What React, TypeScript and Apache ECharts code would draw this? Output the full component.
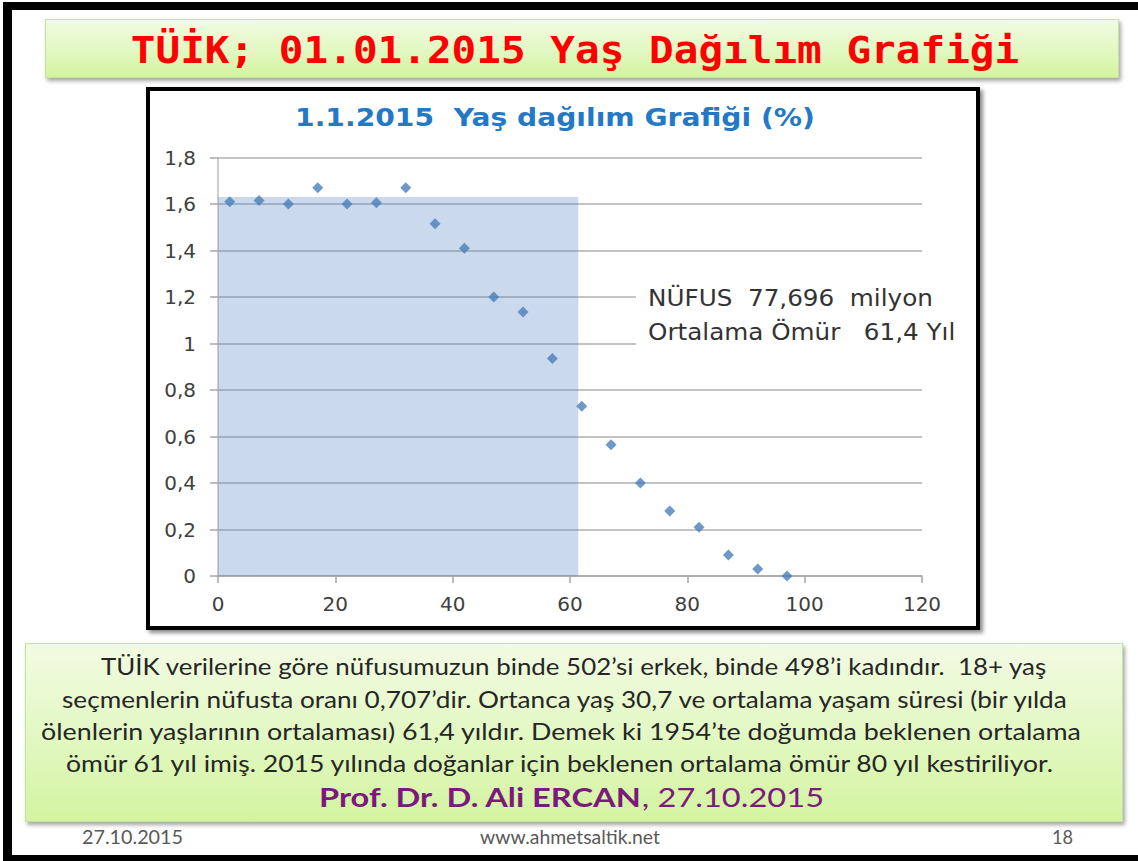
import React, { useEffect, useRef } from "react";
import * as echarts from "echarts";

// ---- data ----
const AGES = [2, 7, 12, 17, 22, 27, 32, 37, 42, 47, 52, 57, 62, 67, 72, 77, 82, 87, 92, 97];
const SHARES = [1.61, 1.615, 1.6, 1.67, 1.6, 1.605, 1.67, 1.515, 1.41, 1.2, 1.135, 0.935, 0.73, 0.565, 0.4, 0.28, 0.21, 0.09, 0.03, 0.0];
const MEAN_AGE_AT_DEATH = 61.4;
const SHADE_TOP = 1.63;
const X_MIN = 0, X_MAX = 120, X_STEP = 20;
const Y_MIN = 0, Y_MAX = 1.8, Y_STEP = 0.2;

const SLIDE_TITLE = "TÜİK; 01.01.2015 Yaş Dağılım Grafiği";
const CHART_TITLE = "1.1.2015  Yaş dağılım Grafiği (%)";
const NOTE_LINES = ["NÜFUS  77,696  milyon", "Ortalama Ömür   61,4 Yıl"];
const BODY_LINES = [
  "TÜİK verilerine göre nüfusumuzun binde 502’si erkek, binde 498’i kadındır.  18+ yaş",
  "seçmenlerin nüfusta oranı 0,707’dir. Ortanca yaş 30,7 ve ortalama yaşam süresi (bir yılda",
  "ölenlerin yaşlarının ortalaması) 61,4 yıldır. Demek ki 1954’te doğumda beklenen ortalama",
  "ömür 61 yıl imiş. 2015 yılında doğanlar için beklenen ortalama ömür 80 yıl kestiriliyor.",
];
const AUTHOR = "Prof. Dr. D. Ali ERCAN";
const AUTHOR_DATE = ", 27.10.2015";
const FOOTER = ["27.10.2015", "www.ahmetsaltik.net", "18"];

// ---- layout helpers ----
let ctx: CanvasRenderingContext2D | null = null;
function measure(text: string, font: string): number {
  if (!ctx) ctx = document.createElement("canvas").getContext("2d");
  ctx!.font = font;
  return ctx!.measureText(text).width;
}
function textEl(
  text: string, x: number, y: number, scaleX: number,
  size: number, family: string, weight: string, fill: string,
  align: "left" | "center" = "left", z = 5
) {
  return {
    type: "text", x, y, scaleX, z, silent: true,
    style: {
      text, x: 0, y: 0, fill, fontSize: size, fontFamily: family, fontWeight: weight,
      align, verticalAlign: "middle", textAlign: align, textVerticalAlign: "middle",
    },
  };
}
function fitText(
  text: string, x: number, y: number, width: number,
  size: number, family: string, weight: string, fill: string,
  align: "left" | "center" = "left", z = 5
) {
  const s = width / measure(text, `${weight} ${size}px ${family}`);
  return textEl(text, x, y, s, size, family, weight, fill, align, z);
}

const LATO = "Lato";
const DV = "DejaVu Sans";

export default function App() {
  const ref = useRef<HTMLDivElement>(null);
  useEffect(() => {
    if (!ref.current) return;
    const chart = echarts.init(ref.current, undefined, { renderer: "svg" });
    const fmt = (v: number) => String(Math.round(v * 10) / 10).replace(".", ",");

    const bodyStarts = [101, 62, 41, 66];
    const bodyEnds = [1048, 1070, 1083, 1057];
    const bodyY = [665, 698, 731, 763];

    const noteScale = 285 / measure(NOTE_LINES[0], `normal 23px ${DV}`);

    const authorSize = 26;
    const wb = measure(AUTHOR, `bold ${authorSize}px ${LATO}`);
    const wd = measure(AUTHOR_DATE, `normal ${authorSize}px ${LATO}`);
    const authorScale = (824 - 319) / (wb + wd);

    const graphic: any[] = [
      fitText(SLIDE_TITLE, 575, 50, 889, 38, "DejaVu Sans Mono", "bold", "#ff0000", "center"),
      fitText(CHART_TITLE, 555, 117, 520, 25, DV, "bold", "#2479c7", "center"),
      {
        type: "rect", z: 1, silent: true,
        shape: { x: 636, y: 281, width: 290, height: 70 },
        style: { fill: "#ffffff" },
      },
      ...NOTE_LINES.map((t, i) =>
        textEl(t, 648, [298, 332][i], noteScale, 23, DV, "normal", "#333333")
      ),
      ...BODY_LINES.map((t, i) =>
        fitText(t, bodyStarts[i], bodyY[i], bodyEnds[i] - bodyStarts[i], 24, LATO, "normal", "#262626")
      ),
      textEl(AUTHOR, 319, 797, authorScale, authorSize, LATO, "bold", "#7a1a7a"),
      textEl(AUTHOR_DATE, 319 + wb * authorScale, 797, authorScale, authorSize, LATO, "normal", "#7a1a7a"),
      fitText(FOOTER[0], 82, 837, 101, 19, LATO, "normal", "#595959"),
      fitText(FOOTER[1], 570, 837, 180, 19, LATO, "normal", "#595959", "center"),
      fitText(FOOTER[2], 1052, 837, 21, 19, LATO, "normal", "#595959"),
    ];

    chart.setOption({
      animation: false,
      backgroundColor: "transparent",
      grid: { left: 218, right: 216, top: 157.5, bottom: 285, containLabel: false },
      xAxis: {
        type: "value", min: X_MIN, max: X_MAX, interval: X_STEP,
        axisLine: { show: true, lineStyle: { color: "#a6a6a6", width: 1.5 } },
        axisTick: { show: true, length: 7, lineStyle: { color: "#a6a6a6", width: 1.5 } },
        splitLine: { show: false },
        axisLabel: { margin: 18, fontFamily: DV, fontSize: 20, color: "#404040" },
      },
      yAxis: {
        type: "value", min: Y_MIN, max: Y_MAX, interval: Y_STEP,
        axisLine: { show: true, lineStyle: { color: "#bfbfbf", width: 1.5 } },
        axisTick: { show: true, length: 8, lineStyle: { color: "#a6a6a6", width: 1.5 } },
        splitLine: { show: true, lineStyle: { color: "#b0b0b0", width: 1.5 } },
        axisLabel: { margin: 22, fontFamily: DV, fontSize: 20, color: "#404040", formatter: fmt },
      },
      series: [
        {
          type: "scatter",
          data: AGES.map((a, i) => [a, SHARES[i]]),
          symbol: "diamond",
          symbolSize: 11,
          itemStyle: { color: "#4a7ebb" },
          silent: true,
          markArea: {
            silent: true,
            itemStyle: { color: "rgba(79,129,189,0.3)" },
            data: [[{ coord: [X_MIN, Y_MIN] }, { coord: [MEAN_AGE_AT_DEATH, SHADE_TOP] }]],
          },
        },
      ],
      graphic,
    });
    return () => chart.dispose();
  }, []);

  const abs = (s: React.CSSProperties): React.CSSProperties => ({ position: "absolute", boxSizing: "border-box", ...s });
  const green = "linear-gradient(to bottom, #f2fbe3 0%, #e3f8c4 50%, #d3f4a0 100%)";

  return (
    <div style={{ position: "fixed", left: 0, top: 0, width: 1138, height: 861, background: "#ffffff", overflow: "hidden" }}>
      <div style={abs({ left: 3, top: 2, width: 1135, height: 8, background: "#000" })} />
      <div style={abs({ left: 3, top: 2, width: 9, height: 859, background: "#000" })} />
      <div style={abs({ left: 3, top: 855, width: 1135, height: 6, background: "#000" })} />
      <div style={abs({ left: 45, top: 19, width: 1074, height: 59, background: green, border: "1px solid #c6e39c", boxShadow: "2px 3px 4px rgba(0,0,0,0.35)" })} />
      <div style={abs({ left: 146, top: 87, width: 834, height: 543, background: "#fff", border: "4.5px solid #000", boxShadow: "3px 3px 4px rgba(0,0,0,0.45)" })} />
      <div style={abs({ left: 25, top: 643, width: 1098, height: 179, background: green, border: "1px solid #c6e39c", boxShadow: "2px 3px 4px rgba(0,0,0,0.35)" })} />
      <div ref={ref} style={{ position: "absolute", left: 0, top: 0, width: 1138, height: 861 }} />
    </div>
  );
}
